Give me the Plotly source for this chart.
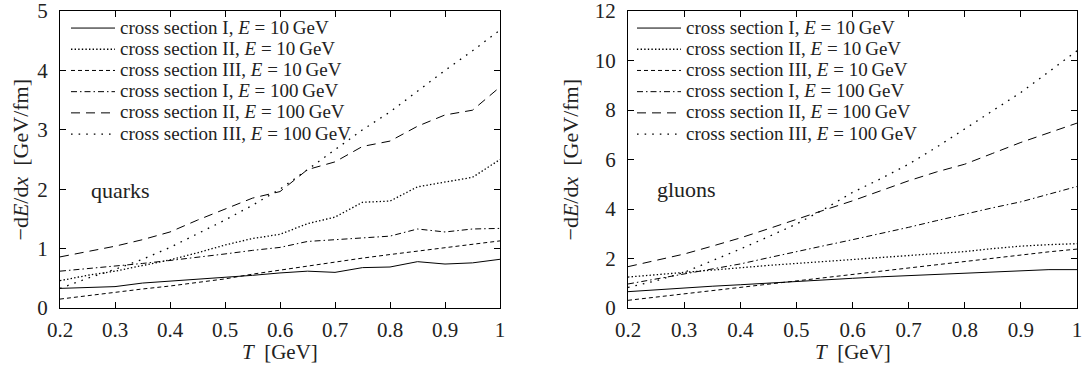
import plotly.graph_objects as go

# Temperature grid [GeV]
T = [0.20, 0.25, 0.30, 0.35, 0.40, 0.45, 0.50, 0.55, 0.60,
     0.65, 0.70, 0.75, 0.80, 0.85, 0.90, 0.95, 1.00]

# Energy loss -dE/dx [GeV/fm] for quarks
quark_I_10 = [0.33, 0.345, 0.36, 0.42, 0.45, 0.48, 0.51, 0.55, 0.59,
              0.62, 0.60, 0.68, 0.69, 0.78, 0.74, 0.76, 0.82]
quark_II_10 = [0.46, 0.55, 0.62, 0.72, 0.81, 0.93, 1.06, 1.17, 1.24,
               1.42, 1.53, 1.78, 1.80, 2.04, 2.12, 2.20, 2.50]
quark_III_10 = [0.15, 0.21, 0.27, 0.32, 0.37, 0.43, 0.49, 0.57, 0.64,
                0.71, 0.77, 0.84, 0.90, 0.96, 1.02, 1.07, 1.13]
quark_I_100 = [0.62, 0.66, 0.70, 0.75, 0.80, 0.85, 0.91, 0.97, 1.02,
               1.12, 1.15, 1.17, 1.21, 1.33, 1.28, 1.33, 1.34]
quark_II_100 = [0.86, 0.95, 1.04, 1.15, 1.28, 1.48, 1.66, 1.85, 1.96,
                2.33, 2.46, 2.72, 2.81, 3.06, 3.25, 3.33, 3.72]
quark_III_100 = [0.33, 0.50, 0.65, 0.82, 1.02, 1.25, 1.48, 1.73, 2.00,
                 2.33, 2.66, 3.00, 3.30, 3.65, 4.00, 4.33, 4.68]

# Energy loss -dE/dx [GeV/fm] for gluons
gluon_I_10 = [0.66, 0.74, 0.81, 0.88, 0.94, 1.01, 1.08, 1.14, 1.20,
              1.26, 1.31, 1.36, 1.40, 1.44, 1.48, 1.55, 1.55]
gluon_II_10 = [1.25, 1.35, 1.44, 1.54, 1.64, 1.72, 1.80, 1.88, 1.97,
               2.05, 2.13, 2.20, 2.28, 2.40, 2.50, 2.56, 2.60]
gluon_III_10 = [0.31, 0.44, 0.57, 0.70, 0.83, 0.96, 1.10, 1.23, 1.37,
                1.50, 1.64, 1.76, 1.87, 2.00, 2.15, 2.27, 2.38]
gluon_I_100 = [0.97, 1.17, 1.37, 1.57, 1.78, 2.03, 2.29, 2.52, 2.76,
               3.00, 3.26, 3.53, 3.80, 4.05, 4.29, 4.60, 4.91]
gluon_II_100 = [1.67, 1.92, 2.18, 2.50, 2.83, 3.20, 3.59, 3.96, 4.33,
                4.75, 5.14, 5.50, 5.81, 6.25, 6.69, 7.08, 7.47]
gluon_III_100 = [0.83, 1.10, 1.44, 1.90, 2.38, 2.88, 3.39, 4.00, 4.67,
                 5.22, 5.81, 6.50, 7.23, 7.95, 8.71, 9.55, 10.39]

labels = [
    "cross section I, <i>E</i> = 10\u2009GeV",
    "cross section II, <i>E</i> = 10\u2009GeV",
    "cross section III, <i>E</i> = 10\u2009GeV",
    "cross section I, <i>E</i> = 100\u2009GeV",
    "cross section II, <i>E</i> = 100\u2009GeV",
    "cross section III, <i>E</i> = 100\u2009GeV",
]
dashes = ["solid", "1.4px,2.2px", "4px,3px", "6px,3px,1.5px,3px", "9px,6px", "1.6px,6px"]
widths = [1.0, 1.3, 1.0, 1.0, 1.0, 1.3]

quark_sets = [quark_I_10, quark_II_10, quark_III_10, quark_I_100, quark_II_100, quark_III_100]
gluon_sets = [gluon_I_10, gluon_II_10, gluon_III_10, gluon_I_100, gluon_II_100, gluon_III_100]

x_ticks = [0.2, 0.3, 0.4, 0.5, 0.6, 0.7, 0.8, 0.9, 1.0]
x_ticktext = ["0.2", "0.3", "0.4", "0.5", "0.6", "0.7", "0.8", "0.9", "1"]
quark_yticks = [0, 1, 2, 3, 4, 5]
gluon_yticks = [0, 2, 4, 6, 8, 10, 12]

FONT = "Liberation Serif"
INK = "#222"


def legend_label(text):
    # compact legend rows with slightly larger label text
    return '<span style="font-size:19px">' + text + "</span>"


fig = go.Figure()
for vals, name, dash, w in zip(quark_sets, labels, dashes, widths):
    fig.add_trace(go.Scatter(x=T, y=vals, mode="lines", name=legend_label(name),
                             line=dict(color="black", width=w, dash=dash),
                             xaxis="x", yaxis="y", legend="legend"))
for vals, name, dash, w in zip(gluon_sets, labels, dashes, widths):
    fig.add_trace(go.Scatter(x=T, y=vals, mode="lines", name=legend_label(name),
                             line=dict(color="black", width=w, dash=dash),
                             xaxis="x2", yaxis="y2", legend="legend2"))

W, H = 1089, 365
xd1 = [60 / W, 500 / W]
xd2 = [628 / W, 1077 / W]
yd = [(H - 308) / H, (H - 11) / H]

axis_common = dict(showline=True, linecolor="black", linewidth=1, mirror="ticks",
                   ticks="inside", ticklen=6, tickcolor="black", tickwidth=1,
                   showgrid=False, zeroline=False, ticklabeloverflow="allow",
                   automargin=False,
                   tickfont=dict(family=FONT, size=21, color=INK))

legend_common = dict(xanchor="left", yanchor="top", bgcolor="rgba(0,0,0,0)",
                     font=dict(family=FONT, size=14, color=INK),
                     tracegroupgap=0, itemwidth=44)

fig.update_layout(
    width=W, height=H,
    margin=dict(l=0, r=0, t=0, b=0),
    paper_bgcolor="white", plot_bgcolor="white",
    font=dict(family=FONT, color=INK),
    xaxis=dict(domain=xd1, range=[0.2, 1.0], tickvals=x_ticks, ticktext=x_ticktext,
               anchor="y", ticklabelstandoff=3, **axis_common),
    yaxis=dict(domain=yd, range=[0, 5], tickvals=quark_yticks, anchor="x",
               ticklabelstandoff=7, **axis_common),
    xaxis2=dict(domain=xd2, range=[0.2, 1.0], tickvals=x_ticks, ticktext=x_ticktext,
                anchor="y2", ticklabelstandoff=3, **axis_common),
    yaxis2=dict(domain=yd, range=[0, 12], tickvals=gluon_yticks, anchor="x2",
                ticklabelstandoff=7, **axis_common),
    legend=dict(x=xd1[0] + 6 / W, y=yd[1] - 0.004, **legend_common),
    legend2=dict(x=xd2[0] + 4 / W, y=yd[1] - 0.004, **legend_common),
    showlegend=True,
)

label_font = dict(family=FONT, size=22, color=INK)
title_font = dict(family=FONT, size=21, color=INK)
title_top = (H - 339) / H
annotations = [
    dict(text="quarks", x=0.253, y=1.97, xref="x", yref="y", xanchor="left",
         yanchor="middle", showarrow=False, font=label_font),
    dict(text="gluons", x=0.248, y=4.8, xref="x2", yref="y2", xanchor="left",
         yanchor="middle", showarrow=False, font=label_font),
    dict(text="<i>T</i>  [GeV]", x=(xd1[0] + xd1[1]) / 2, y=title_top, xref="paper",
         yref="paper", xanchor="center", yanchor="top", borderpad=0, showarrow=False,
         font=title_font),
    dict(text="<i>T</i>  [GeV]", x=(xd2[0] + xd2[1]) / 2, y=title_top, xref="paper",
         yref="paper", xanchor="center", yanchor="top", borderpad=0, showarrow=False,
         font=title_font),
    dict(text="\u2212d<i>E</i>/d<i>x</i>  [GeV/fm]", x=20 / W, y=(yd[0] + yd[1]) / 2,
         xref="paper", yref="paper", xanchor="center", yanchor="middle", textangle=-90,
         showarrow=False, font=label_font),
    dict(text="\u2212d<i>E</i>/d<i>x</i>  [GeV/fm]", x=570 / W, y=(yd[0] + yd[1]) / 2,
         xref="paper", yref="paper", xanchor="center", yanchor="middle", textangle=-90,
         showarrow=False, font=label_font),
]
fig.update_layout(annotations=annotations)

fig.write_html("out.html")
